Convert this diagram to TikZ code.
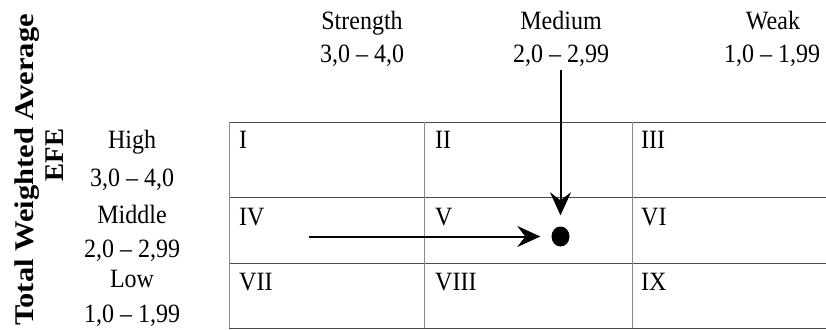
\documentclass[tikz,border=0pt]{standalone}
\usepackage{fontspec}
\setmainfont{Liberation Serif}
\usetikzlibrary{arrows.meta,shapes.geometric}
\begin{document}
\begin{tikzpicture}[x=1pt,y=-1pt,
  lbl/.style={font=\fontsize{24}{28}\selectfont, inner sep=0pt, anchor=base, yscale=1.1},
  rom/.style={lbl, anchor=base west},
  axis/.style={font=\bfseries\fontsize{27}{30}\selectfont, inner sep=0pt, anchor=base, rotate=90},
  hline/.style={draw=black!70, line width=1pt},
  vline/.style={draw=black!45, line width=1pt},
  arr/.style={line width=2pt, -{Stealth[length=23pt,width=21pt,inset=8pt]}, shorten >=11pt}
]
\useasboundingbox (0,0) rectangle (826,329);

% grid
\draw[hline] (229,122) -- (826,122);
\draw[hline] (229,197) -- (826,197);
\draw[hline] (229,263) -- (826,263);
\draw[hline] (229,328) -- (826,328);
\draw[vline] (229,122) -- (229,328);
\draw[vline] (424,122) -- (424,328);
\draw[vline] (632,122) -- (632,328);

% column headings
\node[lbl] (s1) at (362,30) {Strength};
\node[lbl] (s2) at (362,63) {3,0 – 4,0};
\node[lbl] (m1) at (561,30) {Medium};
\node[lbl] (m2) at (561,63) {2,0 – 2,99};
\node[lbl] (w1) at (773,30) {Weak};
\node[lbl] (w2) at (772,63) {1,0 – 1,99};

% row headings
\node[lbl] (h1) at (132,148) {High};
\node[lbl] (h2) at (132,186) {3,0 – 4,0};
\node[lbl] (d1) at (132,223) {Middle};
\node[lbl] (d2) at (132,257) {2,0 – 2,99};
\node[lbl] (l1) at (132,287) {Low};
\node[lbl] (l2) at (132,322) {1,0 – 1,99};

% axis title
\node[axis, xscale=1.13] (t1) at (33,170) {Total Weighted Average};
\node[axis] (t2) at (63,155) {EFE};

% cell numerals
\node[rom] (c1) at (239,148) {I};
\node[rom] (c2) at (435,148) {II};
\node[rom] (c3) at (641,148) {III};
\node[rom] (c4) at (239,225) {IV};
\node[rom] (c5) at (435,225) {V};
\node[rom] (c6) at (641,225) {VI};
\node[rom] (c7) at (239,290) {VII};
\node[rom] (c8) at (435,290) {VIII};
\node[rom] (c9) at (641,290) {IX};

% position
\node[ellipse, fill=black, minimum width=18pt, minimum height=20pt, inner sep=0pt] (dot) at (560.5,236.5) {};
\coordinate (vs) at (560.5,70);
\coordinate (hs) at (309,236.5);
\draw[arr] (vs) -- (vs |- dot.north);
\draw[arr] (hs) -- (hs -| dot.west);
\end{tikzpicture}
\end{document}
